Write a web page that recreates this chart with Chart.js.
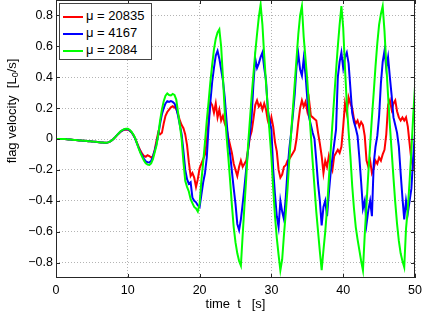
<!DOCTYPE html>
<html lang="en">
<head>
<meta charset="UTF-8">
<title>Flag velocity</title>
<script src="https://cdn.jsdelivr.net/npm/chart.js"></script>
<style>
    body { margin: 0; background: #fff; font-family: "Liberation Sans", Arial, sans-serif; }
    .wrap { position: relative; width: 422px; height: 316px; }
    .legend {
        position: absolute; left: 59px; top: 3px; width: 91px; height: 55px;
        border: 1px solid #444; background: #fff; font-size: 13px; color: #000;
    }
    .legend .row { position: absolute; left: 3px; height: 16px; line-height: 16px; white-space: nowrap; }
    .legend .ln { display: inline-block; width: 20px; height: 2px; vertical-align: middle; margin-right: 3px; }
    .ylab {
        position: absolute; left: -88px; top: 103px; width: 200px; height: 16px;
        line-height: 16px; text-align: center; font-size: 13px; white-space: pre;
        transform: rotate(-90deg);
    }
    .ylab sub { font-size: 9px; vertical-align: -2px; }
</style>
</head>
<body>
<div class="wrap">
    <canvas id="chart" width="422" height="316"></canvas>
    <div class="ylab">flag velocity  [L<sub>0</sub>/s]</div>
    <div class="legend">
        <div class="row" style="top:4px"><span class="ln" style="background:#ff0000"></span>μ = 20835</div>
        <div class="row" style="top:21px"><span class="ln" style="background:#0000ff"></span>μ = 4167</div>
        <div class="row" style="top:38px"><span class="ln" style="background:#00ff00"></span>μ = 2084</div>
    </div>
</div>
<script>
// samples every 0.25 s from t = 0 to 50 s (4 values per second per row)
const dt = 0.25;
const xTicks = [0, 10, 20, 30, 40, 50];
const yTicks = [-0.8, -0.6, -0.4, -0.2, 0, 0.2, 0.4, 0.6, 0.8];
const labels = ["μ = 20835", "μ = 4167", "μ = 2084"];

const velRed = [
    0, 0, 0, 0,   0, 0, -0.002, -0.003,   -0.004, -0.005, -0.006, -0.007,
    -0.008, -0.009, -0.010, -0.011,   -0.012, -0.013, -0.014, -0.015,
    -0.016, -0.017, -0.018, -0.020,   -0.021, -0.022, -0.023, -0.024,
    -0.025, -0.022, -0.017, -0.010,
    0.000, 0.012, 0.025, 0.036,   0.047, 0.055, 0.060, 0.062,
    0.060, 0.054, 0.044, 0.028,   0.006, -0.022, -0.050, -0.075,
    -0.095, -0.110, -0.115, -0.105,   -0.110, -0.120, -0.112, -0.070,
    -0.010, 0.045, 0.030, 0.040,   0.100, 0.150, 0.175, 0.190,
    0.205, 0.212, 0.205, 0.195,   0.160, 0.120, 0.090, 0.070,
    0.030, -0.040, -0.150, -0.240,   -0.220, -0.250, -0.310, -0.260,
    -0.190, -0.160, -0.130, -0.100,   -0.020, 0.120, 0.240, 0.220,
    0.170, 0.230, 0.140, 0.190,   0.120, 0.150, 0.100, 0.070,
    0.010, -0.040, -0.090, -0.160,   -0.200, -0.240, -0.180, -0.140,
    -0.180, -0.160, -0.140, -0.070,   0.010, 0.050, 0.130, 0.220,
    0.250, 0.210, 0.230, 0.190,   0.230, 0.190, 0.120, 0.080,
    0.140, 0.080, -0.020, -0.080,   -0.200, -0.250, -0.230, -0.180,
    -0.170, -0.140, -0.130, -0.110,   -0.090, -0.070, 0.000, 0.110,
    0.200, 0.250, 0.210, 0.240,   0.180, 0.250, 0.150, 0.140,
    0.130, 0.120, 0.040, -0.030,   -0.110, -0.220, -0.140, -0.180,
    -0.110, -0.160, -0.200, -0.110,   -0.090, -0.070, -0.090, -0.050,
    0.080, 0.230, 0.170, 0.270,   0.230, 0.200, 0.130, 0.100,
    0.120, 0.080, 0.110, 0.090,   0.020, -0.140, -0.180, -0.140,
    -0.220, -0.190, -0.140, -0.160,   -0.120, -0.140, -0.100, -0.070,
    0.030, 0.220, 0.250, 0.190,   0.230, 0.250, 0.180, 0.140,
    0.120, 0.140, 0.120, 0.140,   0.080, -0.030, -0.140, -0.180,
    -0.140
];

const velBlue = [
    0, 0, 0, 0,   0, 0, -0.002, -0.003,   -0.004, -0.005, -0.006, -0.007,
    -0.008, -0.009, -0.010, -0.011,   -0.012, -0.013, -0.014, -0.015,
    -0.016, -0.017, -0.018, -0.020,   -0.021, -0.022, -0.023, -0.024,
    -0.025, -0.022, -0.017, -0.010,
    0.000, 0.012, 0.025, 0.037,   0.048, 0.056, 0.062, 0.064,
    0.063, 0.057, 0.045, 0.028,   0.006, -0.025, -0.055, -0.085,
    -0.105, -0.128, -0.145, -0.150,   -0.152, -0.142, -0.115, -0.075,
    -0.030, 0.030, 0.100, 0.160,   0.200, 0.230, 0.245, 0.240,
    0.245, 0.240, 0.230, 0.200,   0.150, 0.090, 0.030, -0.080,
    -0.200, -0.260, -0.290, -0.280,   -0.380, -0.400, -0.410, -0.430,
    -0.440, -0.360, -0.280, -0.220,   -0.120, 0.080, 0.240, 0.370,
    0.460, 0.540, 0.570, 0.520,   0.450, 0.380, 0.270, 0.120,
    -0.020, -0.100, -0.210, -0.320,   -0.420, -0.550, -0.590, -0.520,
    -0.420, -0.310, -0.190, -0.070,   0.030, 0.150, 0.360, 0.520,
    0.460, 0.490, 0.530, 0.560,   0.460, 0.380, 0.190, 0.120,
    0.060, -0.200, -0.360, -0.500,   -0.570, -0.400, -0.470, -0.520,
    -0.380, -0.200, -0.060, 0.040,   0.160, 0.290, 0.470, 0.550,
    0.450, 0.410, 0.520, 0.420,   0.260, 0.140, 0.090, 0.040,
    0.000, -0.140, -0.290, -0.400,   -0.560, -0.440, -0.400, -0.500,
    -0.350, -0.220, -0.120, -0.030,   0.060, 0.400, 0.500, 0.560,
    0.460, 0.530, 0.560, 0.490,   0.330, 0.170, 0.110, 0.070,
    0.020, -0.120, -0.280, -0.450,   -0.400, -0.550, -0.460, -0.400,
    -0.500, -0.160, -0.050, 0.020,   0.150, 0.360, 0.500, 0.570,
    0.460, 0.530, 0.400, 0.280,   0.140, 0.090, 0.040, -0.050,
    -0.220, -0.380, -0.520, -0.400,   -0.480, -0.400, -0.320, -0.120,
    0.040
];

const velGreen = [
    0, 0, 0, 0,   0, 0, -0.002, -0.003,   -0.004, -0.005, -0.006, -0.007,
    -0.008, -0.009, -0.010, -0.011,   -0.012, -0.013, -0.014, -0.015,
    -0.016, -0.017, -0.018, -0.020,   -0.021, -0.022, -0.023, -0.024,
    -0.025, -0.022, -0.017, -0.010,
    0.000, 0.012, 0.025, 0.038,   0.050, 0.058, 0.064, 0.067,
    0.066, 0.060, 0.048, 0.030,   0.008, -0.025, -0.060, -0.090,
    -0.115, -0.140, -0.158, -0.166,   -0.168, -0.158, -0.130, -0.085,
    -0.040, 0.030, 0.120, 0.190,   0.245, 0.280, 0.295, 0.285,
    0.282, 0.292, 0.285, 0.255,   0.170, 0.090, 0.000, -0.150,
    -0.270, -0.310, -0.340, -0.390,   -0.415, -0.440, -0.450, -0.470,
    -0.420, -0.270, -0.150, -0.020,   0.120, 0.240, 0.370, 0.480,
    0.580, 0.650, 0.690, 0.710,   0.600, 0.400, 0.180, 0.020,
    -0.120, -0.270, -0.430, -0.570,   -0.670, -0.740, -0.790, -0.820,
    -0.620, -0.430, -0.250, -0.040,   0.120, 0.280, 0.420, 0.560,
    0.680, 0.790, 0.870, 0.740,   0.540, 0.360, 0.200, 0.040,
    -0.120, -0.320, -0.500, -0.640,   -0.750, -0.850, -0.780, -0.620,
    -0.480, -0.320, -0.130, 0.040,   0.200, 0.360, 0.520, 0.680,
    0.800, 0.860, 0.660, 0.520,   0.380, 0.200, 0.020, -0.150,
    -0.310, -0.470, -0.600, -0.730,   -0.850, -0.720, -0.600, -0.450,
    -0.260, -0.080, 0.100, 0.270,   0.440, 0.600, 0.740, 0.860,
    0.720, 0.460, 0.230, 0.050,   -0.110, -0.300, -0.450, -0.570,
    -0.650, -0.720, -0.790, -0.850,   -0.620, -0.420, -0.220, -0.040,
    0.140, 0.300, 0.470, 0.620,   0.740, 0.810, 0.860, 0.700,
    0.480, 0.280, 0.090, -0.080,   -0.250, -0.410, -0.550, -0.660,
    -0.740, -0.790, -0.830, -0.580,   -0.450, -0.270, -0.070, 0.150,
    0.340
];

function points(vals) {
    return vals.map((v, i) => ({ x: i * dt, y: v }));
}

function fmtY(v) {
    if (Math.abs(v) < 1e-9) return "0";
    return (v < 0 ? "\u2212" : "") + Math.abs(v).toFixed(1);
}

// black box round the plot with inward tick marks on all four sides
const boxPlugin = {
    id: "box",
    afterDatasetsDraw(chart) {
        const { ctx, chartArea: a, scales: { x, y } } = chart;
        ctx.save();
        ctx.strokeStyle = "#262626";
        ctx.lineWidth = 1;
        ctx.beginPath();
        x.ticks.forEach(t => {
            const px = Math.round(x.getPixelForValue(t.value)) + 0.5;
            ctx.moveTo(px, a.bottom); ctx.lineTo(px, a.bottom - 4);
            ctx.moveTo(px, a.top); ctx.lineTo(px, a.top + 4);
        });
        y.ticks.forEach(t => {
            const py = Math.round(y.getPixelForValue(t.value)) + 0.5;
            ctx.moveTo(a.left, py); ctx.lineTo(a.left + 4, py);
            ctx.moveTo(a.right, py); ctx.lineTo(a.right - 4, py);
        });
        ctx.stroke();
        ctx.strokeRect(a.left + 0.5, a.top + 0.5, a.right - a.left - 1, a.bottom - a.top - 1);
        ctx.restore();
    }
};

const gridOpts = { color: "#b4b4b4", drawTicks: false };
const font = { family: "'Liberation Sans', Arial, sans-serif", size: 12.5 };

new Chart(document.getElementById("chart"), {
    type: "line",
    data: {
        datasets: [
            { label: labels[0], data: points(velRed), borderColor: "#ff0000", order: 2 },
            { label: labels[1], data: points(velBlue), borderColor: "#0000ff", order: 1 },
            { label: labels[2], data: points(velGreen), borderColor: "#00ff00", order: 0 }
        ]
    },
    options: {
        responsive: false,
        animation: false,
        layout: { padding: { top: 0, right: 7, left: 0, bottom: 0 } },
        elements: {
            line: { borderWidth: 2, tension: 0 },
            point: { radius: 0 }
        },
        plugins: { legend: { display: false }, tooltip: { enabled: false } },
        scales: {
            x: {
                type: "linear", min: 0, max: 50,
                afterBuildTicks: s => { s.ticks = xTicks.map(v => ({ value: v })); },
                afterFit: s => { s.height = 38; s.paddingLeft = 0; s.paddingRight = 0; },
                grid: gridOpts,
                border: { display: false, dash: [1, 2] },
                ticks: { color: "#000", font: font, padding: 5, maxRotation: 0 },
                title: {
                    display: true, text: "time  t   [s]", color: "#000",
                    font: { family: font.family, size: 13 }, padding: { top: 0, bottom: 4 }
                }
            },
            y: {
                type: "linear", min: -0.9, max: 0.9,
                afterBuildTicks: s => { s.ticks = yTicks.map(v => ({ value: v })); },
                afterFit: s => { s.width = 56; s.paddingTop = 0; s.paddingBottom = 0; },
                grid: gridOpts,
                border: { display: false, dash: [1, 2] },
                ticks: { color: "#000", font: font, padding: 3, callback: fmtY }
            }
        }
    },
    plugins: [boxPlugin]
});
</script>
</body>
</html>
